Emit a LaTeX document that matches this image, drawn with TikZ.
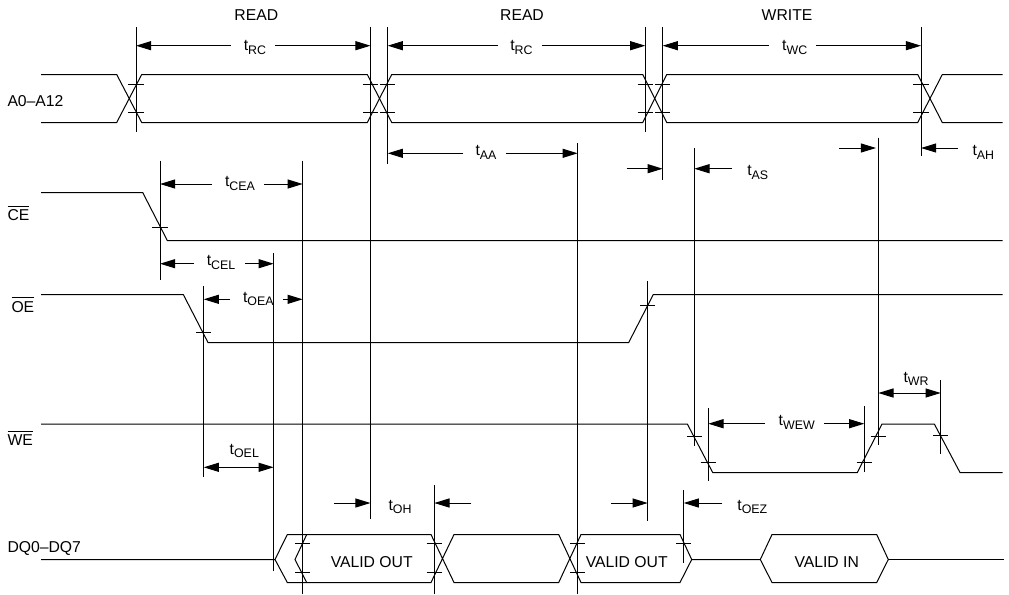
\documentclass[tikz,border=0pt]{standalone}
\usepackage{fontspec}
\setmainfont{Liberation Sans}
\usetikzlibrary{arrows.meta}
\newcommand{\tname}[1]{t\raisebox{-2.7pt}{\fontsize{9.3}{10}\selectfont #1}}
\newcommand{\barname}[1]{$\overline{\mbox{\rule{0pt}{9.6pt}#1}}$}
\tikzset{
    signame/.style={anchor=base west,inner sep=0pt},
    timelabel/.style={anchor=base,inner sep=0pt},
    dim/.style={->},
}
\begin{document}
\begin{tikzpicture}[x=0.75pt,y=-0.75pt,line width=0.75pt,>={Triangle[length=11.4pt,width=6.8pt]},font=\fontsize{11.8}{14}\selectfont]
    \useasboundingbox (0,0) rectangle (1009,594);

    \node[timelabel] (read1) at (256.3,20) {READ};
    \node[timelabel] (read2) at (522,20) {READ};
    \node[timelabel] (write) at (787,20) {WRITE};

    \node[signame] (addr) at (7,106.7) {A0--A12};
    \node[signame] (ce) at (7,220.7) {\barname{CE}};
    \node[signame] (oe) at (11,312) {\barname{OE}};
    \node[signame] (we) at (7,445.7) {\barname{WE}};
    \node[signame] (dq) at (7,552) {DQ0--DQ7};

    \draw (41,74.5) -- (116.7,74.5) -- (141.7,122.5) -- (367.3,122.5) -- (391.7,74.5) -- (642.7,74.5) -- (666.7,122.5) -- (917.7,122.5) -- (942.3,74.5) -- (1002.7,74.5);
    \draw (41,122.5) -- (116.7,122.5) -- (141.7,74.5) -- (367.3,74.5) -- (391.7,122.5) -- (642.7,122.5) -- (666.7,74.5) -- (917.7,74.5) -- (942.3,122.5) -- (1002.7,122.5);
    \draw (41,192.5) -- (142.7,192.5) -- (167.3,240.5) -- (1002.7,240.5);
    \draw (41,294.5) -- (183.3,294.5) -- (208,342.5) -- (628.7,342.5) -- (653.3,294.5) -- (1002.7,294.5);
    \draw (41,424) -- (687.3,424) -- (712.7,472.5) -- (857.3,472.5) -- (882,424) -- (934.3,424) -- (960,472.5) -- (1002.7,472.5);

    \draw (41,559.5) -- (275,559.5) -- (287.3,534.5) -- (431,534.5) -- (454,582.5) -- (558.7,582.5) -- (581,534.5) -- (680,534.5) -- (691.7,559.5) -- (680,582.5) -- (581,582.5) -- (558.7,534.5) -- (454,534.5) -- (431,582.5) -- (287.3,582.5) -- (275,559.5);
    \draw (306.7,534.5) -- (295,559.5) -- (306.7,582.5);
    \draw (691.7,559.5) -- (760.3,559.5) -- (772,534.5) -- (876.7,534.5) -- (888.3,559.5) -- (876.7,582.5) -- (772,582.5) -- (760.3,559.5);
    \draw (888.3,559.5) -- (1004,559.5);

    \node[timelabel] (out1) at (371.7,567) {VALID OUT};
    \node[timelabel] (out2) at (626.7,567) {VALID OUT};
    \node[timelabel] (in) at (826.7,567) {VALID IN};

    \draw (136,27.3) coordinate (g1) -- (136,132.3);
    \draw (370.5,27.3) coordinate (g2) -- (370.5,518.7);
    \draw (387.7,27.3) coordinate (g3) -- (387.7,163.7);
    \draw (645.3,27.3) coordinate (g4) -- (645.3,132.3);
    \draw (662.7,27.3) coordinate (g5) -- (662.7,179.7);
    \draw (921,27.3) coordinate (g6) -- (921,155.7);
    \draw (160,160.7) coordinate (g7) -- (160,280.3);
    \draw (302.7,160.7) coordinate (g8) -- (302.7,594);
    \draw (273.7,253.3) coordinate (g9) -- (273.7,570.7);
    \draw (203.7,286) coordinate (g10) -- (203.7,477.3);
    \draw (577.7,143.3) coordinate (g11) -- (577.7,594);
    \draw (647.7,281) coordinate (g12) -- (647.7,521.3);
    \draw (694.3,148.3) coordinate (g13) -- (694.3,446.3);
    \draw (708.3,408) coordinate (g14) -- (708.3,481.3);
    \draw (864.3,406.3) coordinate (g15) -- (864.3,472);
    \draw (878.3,137.7) coordinate (g16) -- (878.3,445);
    \draw (940.7,380) coordinate (g17) -- (940.7,454.3);
    \draw (434.3,485) coordinate (g18) -- (434.3,594);
    \draw (683.7,490) coordinate (g19) -- (683.7,563.3);

    \draw (128.3,84) -- (143.7,84) (362.8,84) -- (378.2,84) (380,84) -- (395.4,84) (637.6,84) -- (653,84) (655,84) -- (670.4,84) (913.3,84) -- (928.7,84);
    \draw (128.3,112.7) -- (143.7,112.7) (362.8,112.7) -- (378.2,112.7) (380,112.7) -- (395.4,112.7) (637.6,112.7) -- (653,112.7) (655,112.7) -- (670.4,112.7) (913.3,112.7) -- (928.7,112.7);
    \draw (152.3,227.7) -- (167.7,227.7) (196,332) -- (211.4,332) (640,305.7) -- (655.4,305.7);
    \draw (686.6,436.3) -- (702,436.3) (700.6,462) -- (716,462) (856.6,462) -- (872,462) (870.6,436.3) -- (886,436.3) (933,435.3) -- (948.4,435.3);
    \draw (295,543.7) -- (310.4,543.7) (426.6,543.7) -- (442,543.7) (570,543.7) -- (585.4,543.7) (676,543.7) -- (691.4,543.7);
    \draw (295,572.7) -- (310.4,572.7) (426.6,572.7) -- (442,572.7) (570,572.7) -- (585.4,572.7);

    \node[timelabel] (trc1) at (255,50.7) {\tname{RC}};
    \node[timelabel] (trc2) at (521.5,50.7) {\tname{RC}};
    \node[timelabel] (twc) at (794.7,50.7) {\tname{WC}};
    \node[timelabel] (taa) at (486,155.7) {\tname{AA}};
    \node[timelabel] (tas) at (757.7,175.6) {\tname{AS}};
    \node[timelabel] (tah) at (983.3,155.6) {\tname{AH}};
    \node[timelabel] (tcea) at (240,186.6) {\tname{CEA}};
    \node[timelabel] (tcel) at (221,265.6) {\tname{CEL}};
    \node[timelabel] (toea) at (258.3,302) {\tname{OEA}};
    \node[timelabel] (toel) at (244.3,454) {\tname{OEL}};
    \node[timelabel] (toh) at (400,510.3) {\tname{OH}};
    \node[timelabel] (toez) at (752.3,510.3) {\tname{OEZ}};
    \node[timelabel] (tew) at (796.7,425.7) {\tname{WEW}};
    \node[timelabel] (twr) at (916,382.3) {\tname{WR}};

    \draw[dim] (230.7,45.7) coordinate (a1) -- (a1 -| g1);
    \draw[dim] (275.3,45.7) coordinate (a2) -- (a2 -| g2);
    \draw[dim] (497.7,45.7) coordinate (a3) -- (a3 -| g3);
    \draw[dim] (542.3,45.7) coordinate (a4) -- (a4 -| g4);
    \draw[dim] (768.7,45.7) coordinate (a5) -- (a5 -| g5);
    \draw[dim] (816,45.7) coordinate (a6) -- (a6 -| g6);
    \draw[dim] (463.3,153.3) coordinate (a7) -- (a7 -| g3);
    \draw[dim] (506,153.3) coordinate (a8) -- (a8 -| g11);
    \draw[dim] (626.7,168.7) coordinate (a9) -- (a9 -| g5);
    \draw[dim] (732,168.7) coordinate (a10) -- (a10 -| g13);
    \draw[dim,shorten >=1.7pt] (839.3,148) coordinate (a11) -- (a11 -| g16);
    \draw[dim] (957.7,148) coordinate (a12) -- (a12 -| g6);
    \draw[dim] (212,184) coordinate (a13) -- (a13 -| g7);
    \draw[dim] (264,184) coordinate (a14) -- (a14 -| g8);
    \draw[dim] (194,263.7) coordinate (a15) -- (a15 -| g7);
    \draw[dim] (245,263.7) coordinate (a16) -- (a16 -| g9);
    \draw[dim] (230,299.3) coordinate (a17) -- (a17 -| g10);
    \draw[dim] (283.3,299.3) coordinate (a18) -- (a18 -| g8);
    \draw[<->] (203.7,467.3) coordinate (a19) -- (a19 -| g9);
    \draw[dim] (334.3,503) coordinate (a20) -- (a20 -| g2);
    \draw[dim] (471.3,503) coordinate (a21) -- (a21 -| g18);
    \draw[dim] (611,503) coordinate (a22) -- (a22 -| g12);
    \draw[dim] (722.3,503) coordinate (a23) -- (a23 -| g19);
    \draw[dim] (765,423.7) coordinate (a24) -- (a24 -| g14);
    \draw[dim] (824,423.7) coordinate (a25) -- (a25 -| g15);
    \draw[<->] (878.3,393) coordinate (a26) -- (a26 -| g17);
\end{tikzpicture}
\end{document}
